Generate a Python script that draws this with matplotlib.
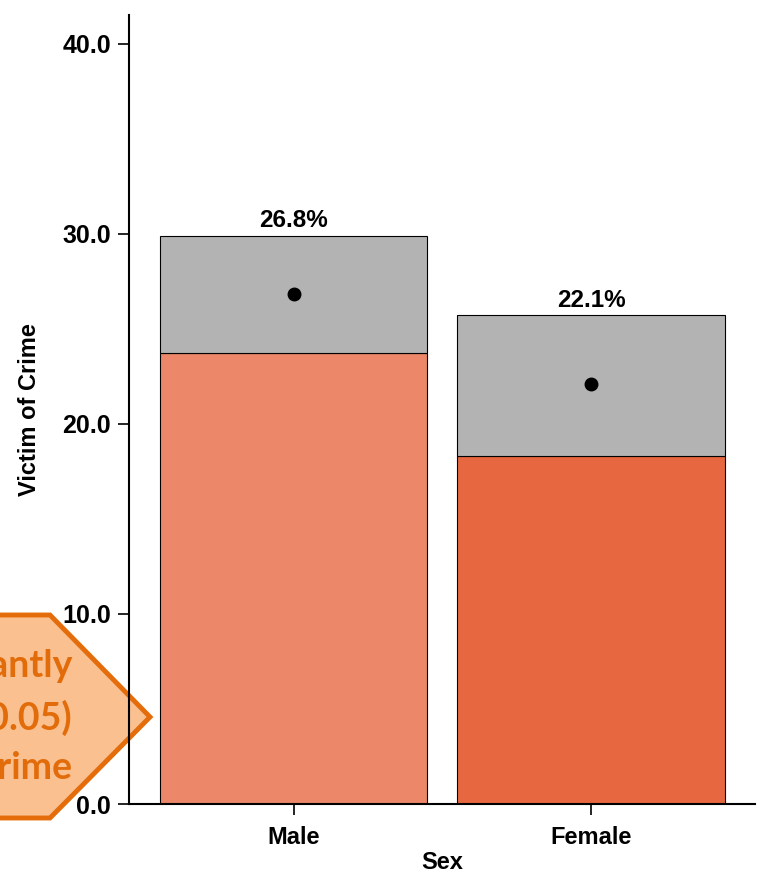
import matplotlib
matplotlib.use("Agg")
import matplotlib.pyplot as plt
from matplotlib.patches import Polygon
import numpy as np

# data
sexes = ["Male", "Female"]
lower = [23.7, 18.3]      # coloured part of the bar
upper = [29.9, 25.7]      # top of grey part
point = [26.8, 22.1]      # estimate
labels = ["26.8%", "22.1%"]
bar_colors = ["#EC8769", "#E76840"]
callout_lines = ["Significantly", "(p<0.05)", "of crime"]

plt.rcParams["font.family"] = ["Liberation Sans", "DejaVu Sans"]
plt.rcParams["font.weight"] = "bold"

W, H = 761, 882
fig = plt.figure(figsize=(W / 100, H / 100), dpi=100)
ax = fig.add_axes([129 / W, 1 - 804 / H, (755 - 129) / W, (804 - 15) / H])
ax.set_facecolor("none")

x = np.arange(len(sexes))
lower = np.array(lower)
upper = np.array(upper)
ax.bar(x, lower, width=0.9, color=bar_colors, edgecolor="black", linewidth=0.8, zorder=2)
ax.bar(x, upper - lower, bottom=lower, width=0.9, color="#B3B3B3", edgecolor="black", linewidth=0.8, zorder=2)
ax.plot(x, point, "o", color="black", markersize=9, zorder=3)
for xi, top, lab in zip(x, upper, labels):
    ax.text(xi, top + 0.2, lab, ha="center", va="bottom", fontsize=17.5, fontweight="bold")

ax.set_xlim(-0.553, 1.551)
ax.set_ylim(0, 41.5)
ax.set_yticks([0, 10, 20, 30, 40])
ax.set_yticklabels(["0.0", "10.0", "20.0", "30.0", "40.0"])
ax.set_xticks(x)
ax.set_xticklabels(sexes)
ax.tick_params(axis="both", width=1.2, length=8, pad=5)
ax.tick_params(axis="y", labelsize=18)
ax.tick_params(axis="x", labelsize=17, pad=8)
for s in ["top", "right"]:
    ax.spines[s].set_visible(False)
for s in ["left", "bottom"]:
    ax.spines[s].set_linewidth(1.5)
ax.set_xlabel("Sex", fontsize=17, fontweight="bold", labelpad=1)
ax.set_ylabel("Victim of Crime", fontsize=17, fontweight="bold", labelpad=15)

# callout arrow on the left, partly off the figure
verts = [(-150, 615), (50, 615), (150, 717), (50, 818), (-150, 818)]
poly = Polygon([(vx / W, 1 - vy / H) for vx, vy in verts], closed=True,
               transform=fig.transFigure, facecolor="#FAC090", edgecolor="#E46C0A",
               linewidth=3.5, zorder=-1)
fig.patches.append(poly)
for line, yy in zip(callout_lines, [666, 718, 768]):
    fig.text(72 / W, 1 - yy / H, line, ha="right", va="center", fontsize=27,
             family="Lato", fontweight="bold", color="#E36C0A", zorder=-1)

fig.savefig("out.png", dpi=100)
